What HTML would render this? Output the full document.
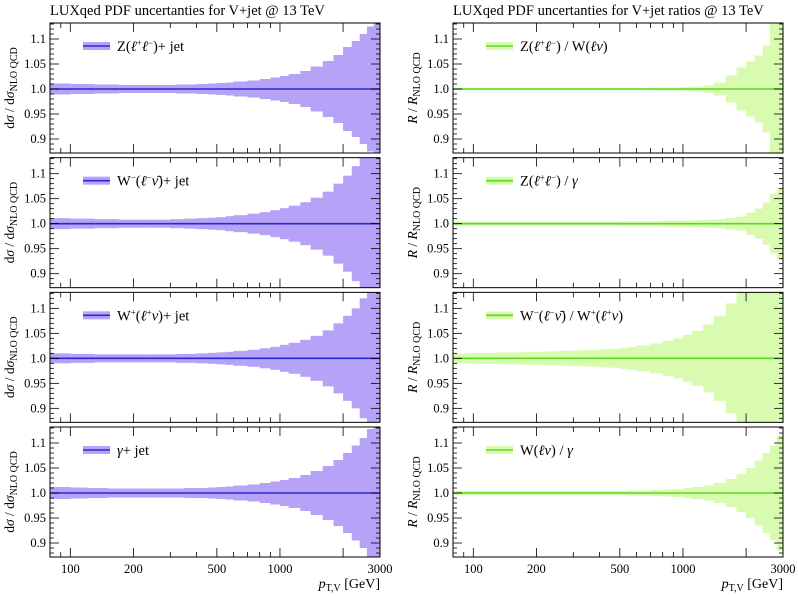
<!DOCTYPE html>
<html><head><meta charset="utf-8">
<style>
html,body{margin:0;padding:0;background:#fff;}
svg{display:block;font-family:"Liberation Serif","DejaVu Serif",serif;}
</style></head>
<body>
<svg id="chart" width="798" height="596" viewBox="0 0 798 596" xmlns="http://www.w3.org/2000/svg">
<text x="50" y="15" font-size="14.5">LUXqed PDF uncertanties for V+jet @ 13 TeV</text>
<text x="453" y="15" font-size="14.5">LUXqed PDF uncertanties for V+jet ratios @ 13 TeV</text>
<text x="380" y="588" font-size="14" text-anchor="end"><tspan font-style="italic">p</tspan><tspan font-size="10" dy="3">T,V</tspan><tspan dy="-3"> [GeV]</tspan></text>
<text x="783" y="588" font-size="14" text-anchor="end"><tspan font-style="italic">p</tspan><tspan font-size="10" dy="3">T,V</tspan><tspan dy="-3"> [GeV]</tspan></text>
</svg>
<script>
const binEdges = [80,90,100,110,120,130,140,150,160,170,180,190,200,220,240,260,280,300,320,350,400,450,500,550,600,700,800,900,1000,1100,1250,1400,1600,1800,2000,2200,2400,2600,2800,3000];
const errZjet  = [0.011,0.011,0.010,0.010,0.010,0.009,0.009,0.009,0.009,0.008,0.008,0.008,0.008,0.008,0.008,0.008,0.008,0.008,0.009,0.009,0.010,0.011,0.012,0.013,0.015,0.017,0.020,0.023,0.026,0.030,0.036,0.045,0.056,0.068,0.084,0.096,0.110,0.125,0.150];
const errWmjet = [0.011,0.011,0.010,0.010,0.010,0.009,0.009,0.009,0.009,0.008,0.008,0.008,0.008,0.008,0.008,0.008,0.008,0.009,0.009,0.010,0.011,0.012,0.013,0.015,0.017,0.020,0.023,0.027,0.031,0.036,0.043,0.052,0.064,0.080,0.096,0.115,0.135,0.150,0.160];
const errWpjet = [0.010,0.010,0.009,0.009,0.009,0.008,0.008,0.008,0.008,0.008,0.008,0.008,0.008,0.008,0.008,0.008,0.008,0.008,0.009,0.009,0.010,0.011,0.012,0.013,0.015,0.017,0.020,0.023,0.027,0.031,0.037,0.045,0.056,0.070,0.085,0.100,0.120,0.140,0.160];
const errGjet  = [0.012,0.012,0.011,0.011,0.010,0.010,0.010,0.009,0.009,0.009,0.009,0.009,0.009,0.009,0.009,0.009,0.009,0.009,0.009,0.010,0.010,0.011,0.012,0.013,0.015,0.017,0.020,0.023,0.026,0.030,0.036,0.044,0.054,0.066,0.080,0.095,0.110,0.128,0.150];
const errZW    = [0.002,0.002,0.002,0.002,0.002,0.002,0.002,0.002,0.002,0.002,0.002,0.002,0.002,0.002,0.002,0.002,0.002,0.002,0.002,0.002,0.002,0.002,0.002,0.002,0.002,0.003,0.003,0.003,0.004,0.005,0.007,0.013,0.027,0.043,0.055,0.067,0.087,0.140,0.150];
const errZG    = [0.004,0.004,0.004,0.004,0.004,0.004,0.004,0.004,0.004,0.004,0.004,0.004,0.004,0.004,0.004,0.004,0.004,0.004,0.004,0.004,0.004,0.004,0.005,0.005,0.005,0.005,0.006,0.006,0.006,0.007,0.008,0.009,0.012,0.014,0.022,0.030,0.042,0.060,0.072];
const errWW    = [0.010,0.010,0.011,0.011,0.011,0.012,0.012,0.012,0.012,0.013,0.013,0.013,0.013,0.014,0.014,0.015,0.015,0.016,0.016,0.017,0.018,0.019,0.021,0.023,0.026,0.030,0.035,0.040,0.047,0.055,0.068,0.085,0.110,0.140,0.160,0.170,0.170,0.170,0.170];
const errWG    = [0.004,0.004,0.004,0.004,0.004,0.004,0.004,0.004,0.004,0.004,0.004,0.004,0.004,0.004,0.004,0.004,0.004,0.004,0.004,0.004,0.004,0.004,0.004,0.005,0.005,0.006,0.007,0.008,0.010,0.012,0.015,0.020,0.028,0.038,0.050,0.065,0.080,0.095,0.115];
const yTicks = [0.9,0.95,1.0,1.05,1.1];
const yTickLabels = ["0.9","0.95","1.0","1.05","1.1"];
const xTickLabels = ["100","200","500","1000","3000"];
const xTickVals = [100,200,500,1000,3000];

const NS="http://www.w3.org/2000/svg";
const svg=document.getElementById('chart');
function mk(tag,attrs,parent){const e=document.createElementNS(NS,tag);for(const k in attrs)e.setAttribute(k,attrs[k]);(parent||svg).appendChild(e);return e;}
const XMIN=80,XMAX=3000,YMIN=0.872,YMAX=1.132,PH=130,PITCH=134.67,TOP=23,W=330;
function xs(v,x0){return x0+(Math.log10(v)-Math.log10(XMIN))/(Math.log10(XMAX)-Math.log10(XMIN))*W;}
function ys(v,y0){return y0+(YMAX-v)/(YMAX-YMIN)*PH;}

const panels=[
 {col:0,row:0,err:errZjet,name:'z-jet',leg:'Z(<tspan font-style="italic">ℓ</tspan><tspan font-size="9" dy="-5">+</tspan><tspan dy="5" font-style="italic">ℓ</tspan><tspan font-size="9" dy="-5">−</tspan><tspan dy="5">)+ jet</tspan>'},
 {col:0,row:1,err:errWmjet,name:'wminus-jet',leg:'W<tspan font-size="9" dy="-5">−</tspan><tspan dy="5">(</tspan><tspan font-style="italic">ℓ</tspan><tspan font-size="9" dy="-5">−</tspan><tspan dy="5" font-style="italic">ν̄</tspan>)+ jet'},
 {col:0,row:2,err:errWpjet,name:'wplus-jet',leg:'W<tspan font-size="9" dy="-5">+</tspan><tspan dy="5">(</tspan><tspan font-style="italic">ℓ</tspan><tspan font-size="9" dy="-5">+</tspan><tspan dy="5" font-style="italic">ν</tspan>)+ jet'},
 {col:0,row:3,err:errGjet,name:'gamma-jet',leg:'<tspan font-style="italic">γ</tspan>+ jet'},
 {col:1,row:0,err:errZW,name:'z-over-w',leg:'Z(<tspan font-style="italic">ℓ</tspan><tspan font-size="9" dy="-5">+</tspan><tspan dy="5" font-style="italic">ℓ</tspan><tspan font-size="9" dy="-5">−</tspan><tspan dy="5">) / W(</tspan><tspan font-style="italic">ℓν</tspan>)'},
 {col:1,row:1,err:errZG,name:'z-over-gamma',leg:'Z(<tspan font-style="italic">ℓ</tspan><tspan font-size="9" dy="-5">+</tspan><tspan dy="5" font-style="italic">ℓ</tspan><tspan font-size="9" dy="-5">−</tspan><tspan dy="5">) / </tspan><tspan font-style="italic">γ</tspan>'},
 {col:1,row:2,err:errWW,name:'wminus-over-wplus',leg:'W<tspan font-size="9" dy="-5">−</tspan><tspan dy="5">(</tspan><tspan font-style="italic">ℓ</tspan><tspan font-size="9" dy="-5">−</tspan><tspan dy="5" font-style="italic">ν̄</tspan>) / W<tspan font-size="9" dy="-5">+</tspan><tspan dy="5">(</tspan><tspan font-style="italic">ℓ</tspan><tspan font-size="9" dy="-5">+</tspan><tspan dy="5" font-style="italic">ν</tspan>)'},
 {col:1,row:3,err:errWG,name:'w-over-gamma',leg:'W(<tspan font-style="italic">ℓν</tspan>) / <tspan font-style="italic">γ</tspan>'}
];
const majorX=[100,200,500,1000,2000];
const minorX=[90,300,400,600,700,800,900,3000];

panels.forEach(p=>{
  const x0=p.col?453:50, y0=TOP+p.row*PITCH;
  const band=p.col?'#d8fbb0':'#b6a3f7', line=p.col?'#5ada22':'#2a2ad2';
  const g=mk('g',{});
  
  
  const cid='clip'+p.col+p.row;
  const cp=mk('clipPath',{id:cid},g); mk('rect',{x:x0,y:y0,width:W,height:PH},cp);
  const bg=mk('g',{'clip-path':'url(#'+cid+')'},g);
  for(let i=0;i<p.err.length;i++){
    const xa=xs(binEdges[i],x0), xb=xs(binEdges[i+1],x0);
    const ya=ys(1+p.err[i],y0), yb=ys(1-p.err[i],y0);
    const r=mk('rect',{x:xa.toFixed(2),y:ya.toFixed(2),width:(xb-xa+0.4).toFixed(2),height:(yb-ya).toFixed(2),fill:band},bg);
    
    
  }
  const cl=mk('line',{x1:x0,x2:x0+W,y1:ys(1,y0),y2:ys(1,y0),stroke:line,'stroke-width':1.6},bg);
  
  
  const fr=mk('rect',{x:x0,y:y0,width:W,height:PH,fill:'none',stroke:'#000','stroke-width':1},g);
  
  
  for(let k=0;k<=26;k++){
    const v=0.87+k*0.01; if(v<YMIN-1e-9||v>YMAX) continue;
    const yy=ys(v,y0); const maj=Math.abs(v*20-Math.round(v*20))<1e-6; const L=maj?9:4;
    mk('line',{x1:x0,x2:x0+L,y1:yy,y2:yy,stroke:'#000','stroke-width':0.8},g);
    mk('line',{x1:x0+W,x2:x0+W-L,y1:yy,y2:yy,stroke:'#000','stroke-width':0.8},g);
  }
  yTicks.forEach((v,i)=>{
    const t=mk('text',{x:x0-4,y:ys(v,y0)+4,'font-size':12.5,'text-anchor':'end'},g);
    t.textContent=yTickLabels[i];
    
    
  });
  majorX.concat(minorX).forEach(v=>{
    const xx=xs(v,x0); const L=majorX.includes(v)?9:5;
    mk('line',{x1:xx,x2:xx,y1:y0+PH,y2:y0+PH-L,stroke:'#000','stroke-width':0.8},g);
    mk('line',{x1:xx,x2:xx,y1:y0,y2:y0+L,stroke:'#000','stroke-width':0.8},g);
  });
  if(p.row===3){
    xTickVals.forEach((v,i)=>{
      const t=mk('text',{x:xs(v,x0),y:y0+PH+16,'font-size':12.5,'text-anchor':'middle'},g);
      t.textContent=xTickLabels[i];
      
      
    });
  }
  const yt=mk('text',{transform:'translate('+(x0-36)+','+(y0+PH/2)+') rotate(-90)','font-size':13.5,'text-anchor':'middle'},g);
  yt.innerHTML=p.col?'<tspan font-style="italic">R</tspan> / <tspan font-style="italic">R</tspan><tspan font-size="10" dy="3">NLO QCD</tspan>':'d<tspan font-style="italic">σ</tspan> / d<tspan font-style="italic">σ</tspan><tspan font-size="10" dy="3">NLO QCD</tspan>';
  
  
  const lg=mk('g',{},g);
  
  
  mk('rect',{x:x0+33,y:y0+19,width:27,height:8,fill:band},lg);
  mk('line',{x1:x0+33,x2:x0+60,y1:y0+23,y2:y0+23,stroke:line,'stroke-width':1.6},lg);
  const lt=mk('text',{x:x0+67,y:y0+28,'font-size':14.5},lg);
  lt.innerHTML=p.leg;
});
</script>
</body></html>
